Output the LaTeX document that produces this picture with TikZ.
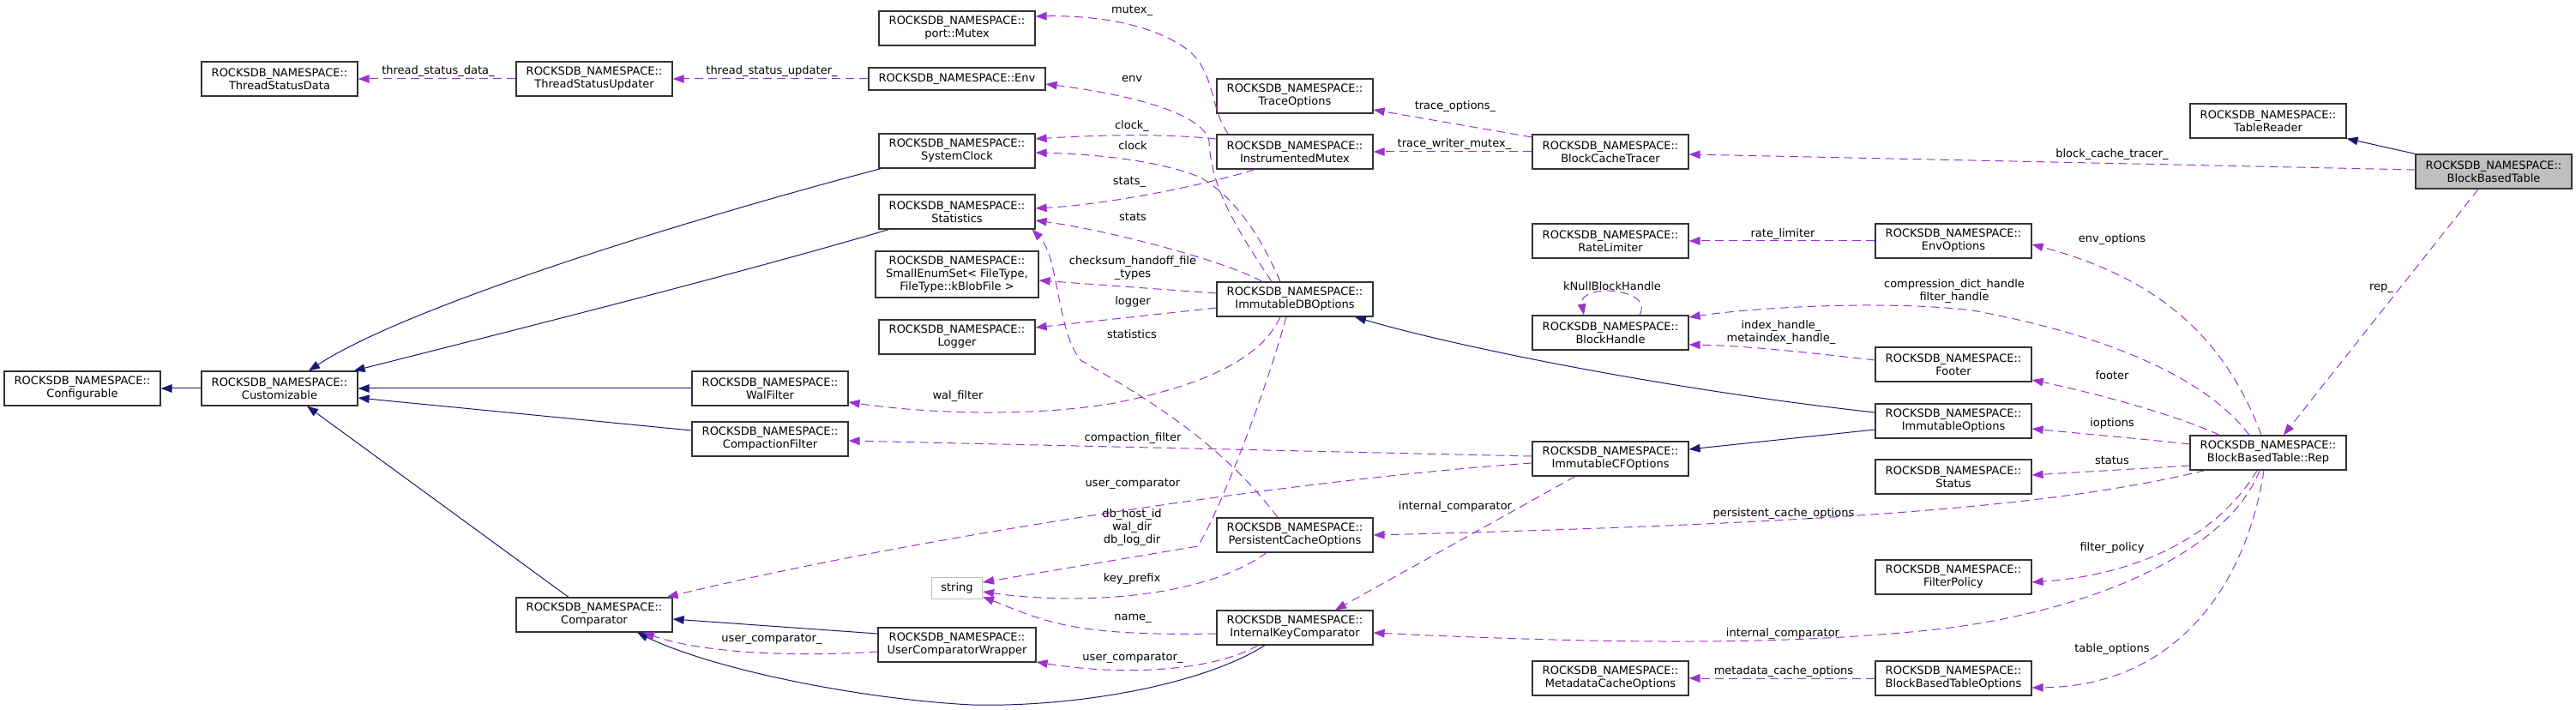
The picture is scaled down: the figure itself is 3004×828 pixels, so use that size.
\documentclass[tikz,border=0pt]{standalone}
\usepackage{fontspec}
\setmainfont{DejaVu Sans}
\usepackage{xcolor}
\usepackage{tikz}
\usetikzlibrary{arrows.meta, calc}

\definecolor{depcol}{HTML}{9A32CD}
\definecolor{inhcol}{HTML}{191970}
\newcommand{\rns}{ROCKSDB\_NAMESPACE::}

\begin{document}
\begin{tikzpicture}[
  x=0.5pt, y=-0.5pt,
  font=\fontsize{6.5}{7.5}\selectfont,
  cls/.style={draw=black!80, fill=white, line width=0.6pt, minimum width=91pt, minimum height=20pt, inner sep=0pt, align=center},
  inh/.style={-{Triangle[length=6.5pt,width=4.8pt]}, inhcol, line width=0.5pt},
  dep/.style={-{Triangle[length=6.5pt,width=4.8pt]}, depcol, line width=0.5pt, dash pattern=on 5pt off 3pt},
  elab/.style={inner sep=0pt, align=center, text=black}
]
\useasboundingbox (0,0) rectangle (3004,828);

\node[cls] (tsdata) at (326,92) {\rns\\ThreadStatusData};
\node[cls] (tsupd) at (693,92) {\rns\\ThreadStatusUpdater};
\node[cls] (configurable) at (96,453) {\rns\\Configurable};
\node[cls] (customizable) at (326,453) {\rns\\Customizable};
\node[cls] (walfilter) at (898,453) {\rns\\WalFilter};
\node[cls] (compfilter) at (898,512) {\rns\\CompactionFilter};
\node[cls] (comparator) at (693,717) {\rns\\Comparator};
\node[cls] (pmutex) at (1116,33) {\rns\\port::Mutex};
\node[cls, minimum width=103pt, minimum height=13pt] (env) at (1116,92) {\rns Env};
\node[cls] (sysclock) at (1116,176) {\rns\\SystemClock};
\node[cls] (statistics) at (1116,247) {\rns\\Statistics};
\node[cls, minimum width=95pt, minimum height=27pt] (enumset) at (1116,320) {\rns\\SmallEnumSet< FileType,\\ FileType::kBlobFile >};
\node[cls] (logger) at (1116,393) {\rns\\Logger};
\node[cls, draw=black!25, minimum width=29.5pt, minimum height=12.5pt] (string) at (1116,686) {string};
\node[cls, minimum width=92pt] (ucwrap) at (1116,752) {\rns\\UserComparatorWrapper};
\node[cls] (traceopt) at (1510,112) {\rns\\TraceOptions};
\node[cls] (imutex) at (1510,177) {\rns\\InstrumentedMutex};
\node[cls] (imdb) at (1510,349) {\rns\\ImmutableDBOptions};
\node[cls] (pcache) at (1510,624) {\rns\\PersistentCacheOptions};
\node[cls] (ikcomp) at (1510,732) {\rns\\InternalKeyComparator};
\node[cls] (bctracer) at (1878,177) {\rns\\BlockCacheTracer};
\node[cls] (ratelim) at (1878,281) {\rns\\RateLimiter};
\node[cls] (bhandle) at (1878,388) {\rns\\BlockHandle};
\node[cls] (imcf) at (1878,535) {\rns\\ImmutableCFOptions};
\node[cls] (mdcache) at (1878,791) {\rns\\MetadataCacheOptions};
\node[cls] (envopt) at (2278,281) {\rns\\EnvOptions};
\node[cls] (footer) at (2278,425) {\rns\\Footer};
\node[cls] (imopt) at (2278,491) {\rns\\ImmutableOptions};
\node[cls] (status) at (2278,556) {\rns\\Status};
\node[cls] (fpolicy) at (2278,673) {\rns\\FilterPolicy};
\node[cls] (bbtopt) at (2278,791) {\rns\\BlockBasedTableOptions};
\node[cls] (treader) at (2645,141) {\rns\\TableReader};
\node[cls, fill=black!25] (bbt) at (2908,200) {\rns\\BlockBasedTable};
\node[cls] (rep) at (2645,528) {\rns\\BlockBasedTable::Rep};

% inheritance
\draw[inh] (customizable.west) -- (configurable.east);
\draw[inh] ($(sysclock.south west)+(3,0)$) .. controls (780,262) and (470,360) .. ($(customizable.north)+(34,0)$);
\draw[inh] ($(statistics.south west)+(12,0)$) .. controls (860,320) and (560,395) .. ($(customizable.north east)+(-5,0)$);
\draw[inh] (walfilter.west) -- (customizable.east);
\draw[inh] ($(compfilter.west)+(0,-10)$) -- ($(customizable.east)+(0,11)$);
\draw[inh] ($(comparator.north)+(-30,0)$) -- ($(customizable.south)+(32,0)$);
\draw[inh] ($(ucwrap.west)+(0,-13)$) -- ($(comparator.east)+(0,5)$);
\draw[inh] ($(ikcomp.south)+(-35,0)$) .. controls (1400,800) and (1250,825) .. (1133,822) .. controls (1000,815) and (830,780) .. ($(comparator.south)+(50,0)$);
\draw[inh] ($(imopt.west)+(0,-10)$) .. controls (1950,455) and (1700,405) .. ($(imdb.south)+(70,0)$);
\draw[inh] ($(imopt.west)+(0,10)$) -- ($(imcf.east)+(0,-11)$);
\draw[inh] (bbt.north west) -- (treader.south east);

% members
\draw[dep] (tsupd.west) -- (tsdata.east);
\draw[dep] (env.west) -- (tsupd.east);
\draw[dep] ($(imutex.north west)+(14,0)$) .. controls (1410,125) and (1418,85) .. (1385,58) .. controls (1340,25) and (1270,18) .. ($(pmutex.east)+(0,-14)$);
\draw[dep] ($(imdb.north)+(-27,0)$) .. controls (1430,250) and (1412,210) .. (1410,165) .. controls (1405,135) and (1330,112) .. ($(env.east)+(0,6)$);
\draw[dep] ($(imutex.west)+(0,-15)$) .. controls (1350,155) and (1270,158) .. ($(sysclock.east)+(0,-14)$);
\draw[dep] ($(imdb.north)+(-17,0)$) .. controls (1470,275) and (1440,230) .. (1400,207) .. controls (1360,190) and (1290,180) .. ($(sysclock.east)+(0,2)$);
\draw[dep] ($(imutex.south)+(-47,0)$) .. controls (1420,212) and (1300,238) .. ($(statistics.east)+(0,-4)$);
\draw[dep] ($(imdb.north)+(-38,0)$) .. controls (1430,305) and (1300,270) .. ($(statistics.east)+(0,10)$);
\draw[dep] ($(imdb.west)+(0,-7)$) -- ($(enumset.east)+(0,7)$);
\draw[dep] ($(imdb.west)+(0,10)$) -- ($(logger.east)+(0,-11)$);
\draw[dep] ($(pcache.north)+(-20,0)$) .. controls (1420,510) and (1320,455) .. (1260,420) .. controls (1232,385) and (1235,300) .. ($(statistics.south east)+(-4,0)$);
\draw[dep] ($(imdb.south)+(-17,0)$) .. controls (1470,420) and (1400,450) .. (1300,470) .. controls (1200,487) and (1080,482) .. ($(walfilter.east)+(0,16)$);
\draw[dep] ($(imdb.south)+(-10,0)$) .. controls (1475,460) and (1425,590) .. (1397,637) -- ($(string.east)+(0,-7)$);
\draw[dep] ($(imcf.west)+(0,-3)$) -- ($(compfilter.east)+(0,2)$);
\draw[dep] ($(imcf.west)+(0,5)$) .. controls (1500,560) and (1050,630) .. ($(comparator.north east)+(-7,0)$);
\draw[dep] ($(imcf.south)+(-41,0)$) -- ($(ikcomp.north)+(47,0)$);
\draw[dep] ($(pcache.south)+(-33,0)$) .. controls (1400,700) and (1250,705) .. ($(string.east)+(0,4)$);
\draw[dep] ($(ikcomp.west)+(0,7)$) .. controls (1250,742) and (1220,725) .. ($(string.south east)+(0,-3)$);
\draw[dep] ($(ikcomp.south)+(-43,0)$) .. controls (1420,780) and (1320,790) .. ($(ucwrap.east)+(0,20)$);
\draw[dep] ($(ucwrap.west)+(0,8)$) .. controls (950,765) and (830,765) .. ($(comparator.south)+(57,0)$);
\draw[dep] ($(bctracer.west)+(0,-17)$) -- ($(traceopt.east)+(0,16)$);
\draw[dep] (bctracer.west) -- (imutex.east);
\draw[dep] ($(bbt.west)+(0,-2)$) -- ($(bctracer.east)+(0,3)$);
\draw[dep] (envopt.west) -- (ratelim.east);
\draw[dep] ($(bhandle.north)+(34,0)$) .. controls (1930,335) and (1840,330) .. ($(bhandle.north)+(-31,0)$);
\draw[dep] ($(footer.west)+(0,-5)$) .. controls (2100,410) and (2030,403) .. ($(bhandle.east)+(0,14)$);
\draw[dep] ($(rep.north)+(-22,0)$) .. controls (2580,450) and (2480,395) .. (2300,362) .. controls (2200,350) and (2050,358) .. ($(bhandle.east)+(0,-18)$);
\draw[dep] ($(rep.north)+(-8,0)$) .. controls (2590,380) and (2500,320) .. ($(envopt.east)+(0,4)$);
\draw[dep] ($(rep.north west)+(35,0)$) .. controls (2540,485) and (2450,460) .. ($(footer.east)+(0,18)$);
\draw[dep] ($(rep.west)+(0,-10)$) .. controls (2500,512) and (2420,505) .. ($(imopt.east)+(0,9)$);
\draw[dep] ($(rep.west)+(0,15)$) -- ($(status.east)+(0,-2)$);
\draw[dep] ($(rep.south west)+(18,0)$) .. controls (2400,590) and (2150,610) .. (pcache.east);
\draw[dep] ($(rep.south)+(-13,0)$) .. controls (2590,620) and (2500,670) .. ($(fpolicy.east)+(0,6)$);
\draw[dep] ($(rep.south)+(-10,0)$) .. controls (2600,640) and (2450,710) .. (2267,733) .. controls (2100,752) and (1900,752) .. ($(ikcomp.east)+(0,6)$);
\draw[dep] ($(rep.south)+(-5,0)$) .. controls (2620,680) and (2540,800) .. ($(bbtopt.east)+(0,11)$);
\draw[dep] (bbtopt.west) -- (mdcache.east);
\draw[dep] ($(bbt.south)+(-18,0)$) -- ($(rep.north)+(18,0)$);

% member labels
\node[elab] (ltsdata) at (511,83) {thread\_status\_data\_};
\node[elab] (ltsupd) at (900,83) {thread\_status\_updater\_};
\node[elab] (lmutex) at (1320,12) {mutex\_};
\node[elab] (lenv) at (1320,92) {env};
\node[elab] (lclockm) at (1320,147) {clock\_};
\node[elab] (lclock) at (1321,170) {clock};
\node[elab] (lstatsm) at (1317,212) {stats\_};
\node[elab] (lstats) at (1321,253) {stats};
\node[elab] (lchecksum) at (1321,313) {checksum\_handoff\_file\\\_types};
\node[elab] (llogger) at (1321,352) {logger};
\node[elab] (lstatistics) at (1320,390) {statistics};
\node[elab] (lwalfilter) at (1117,462) {wal\_filter};
\node[elab] (lcompfilter) at (1321,511) {compaction\_filter};
\node[elab] (lusercmp) at (1321,564) {user\_comparator};
\node[elab] (ldirs) at (1320,615) {db\_host\_id\\wal\_dir\\db\_log\_dir};
\node[elab] (lkeyprefix) at (1320,675) {key\_prefix};
\node[elab] (lname) at (1321,721) {name\_};
\node[elab] (lusercmpa) at (1321,767) {user\_comparator\_};
\node[elab] (lusercmpb) at (900,745) {user\_comparator\_};
\node[elab] (lintcmpa) at (1697,591) {internal\_comparator};
\node[elab] (ltraceopt) at (1697,124) {trace\_options\_};
\node[elab] (ltracemutex) at (1696,168) {trace\_writer\_mutex\_};
\node[elab] (lnullhandle) at (1880,334) {kNullBlockHandle};
\node[elab] (lbctracer) at (2463,180) {block\_cache\_tracer\_};
\node[elab] (lratelim) at (2079,273) {rate\_limiter};
\node[elab] (lenvopt) at (2463,279) {env\_options};
\node[elab] (lhandles) at (2279,340) {compression\_dict\_handle\\filter\_handle};
\node[elab] (lindex) at (2077,388) {index\_handle\_\\metaindex\_handle\_};
\node[elab] (lfooter) at (2463,438) {footer};
\node[elab] (lioptions) at (2463,494) {ioptions};
\node[elab] (lstatus) at (2463,537) {status};
\node[elab] (lpcache) at (2080,599) {persistent\_cache\_options};
\node[elab] (lfpolicy) at (2463,639) {filter\_policy};
\node[elab] (lintcmpb) at (2079,739) {internal\_comparator};
\node[elab] (lmdcache) at (2080,783) {metadata\_cache\_options};
\node[elab] (ltableopt) at (2463,757) {table\_options};
\node[elab] (lrep) at (2777,336) {rep\_};
\end{tikzpicture}
\end{document}
